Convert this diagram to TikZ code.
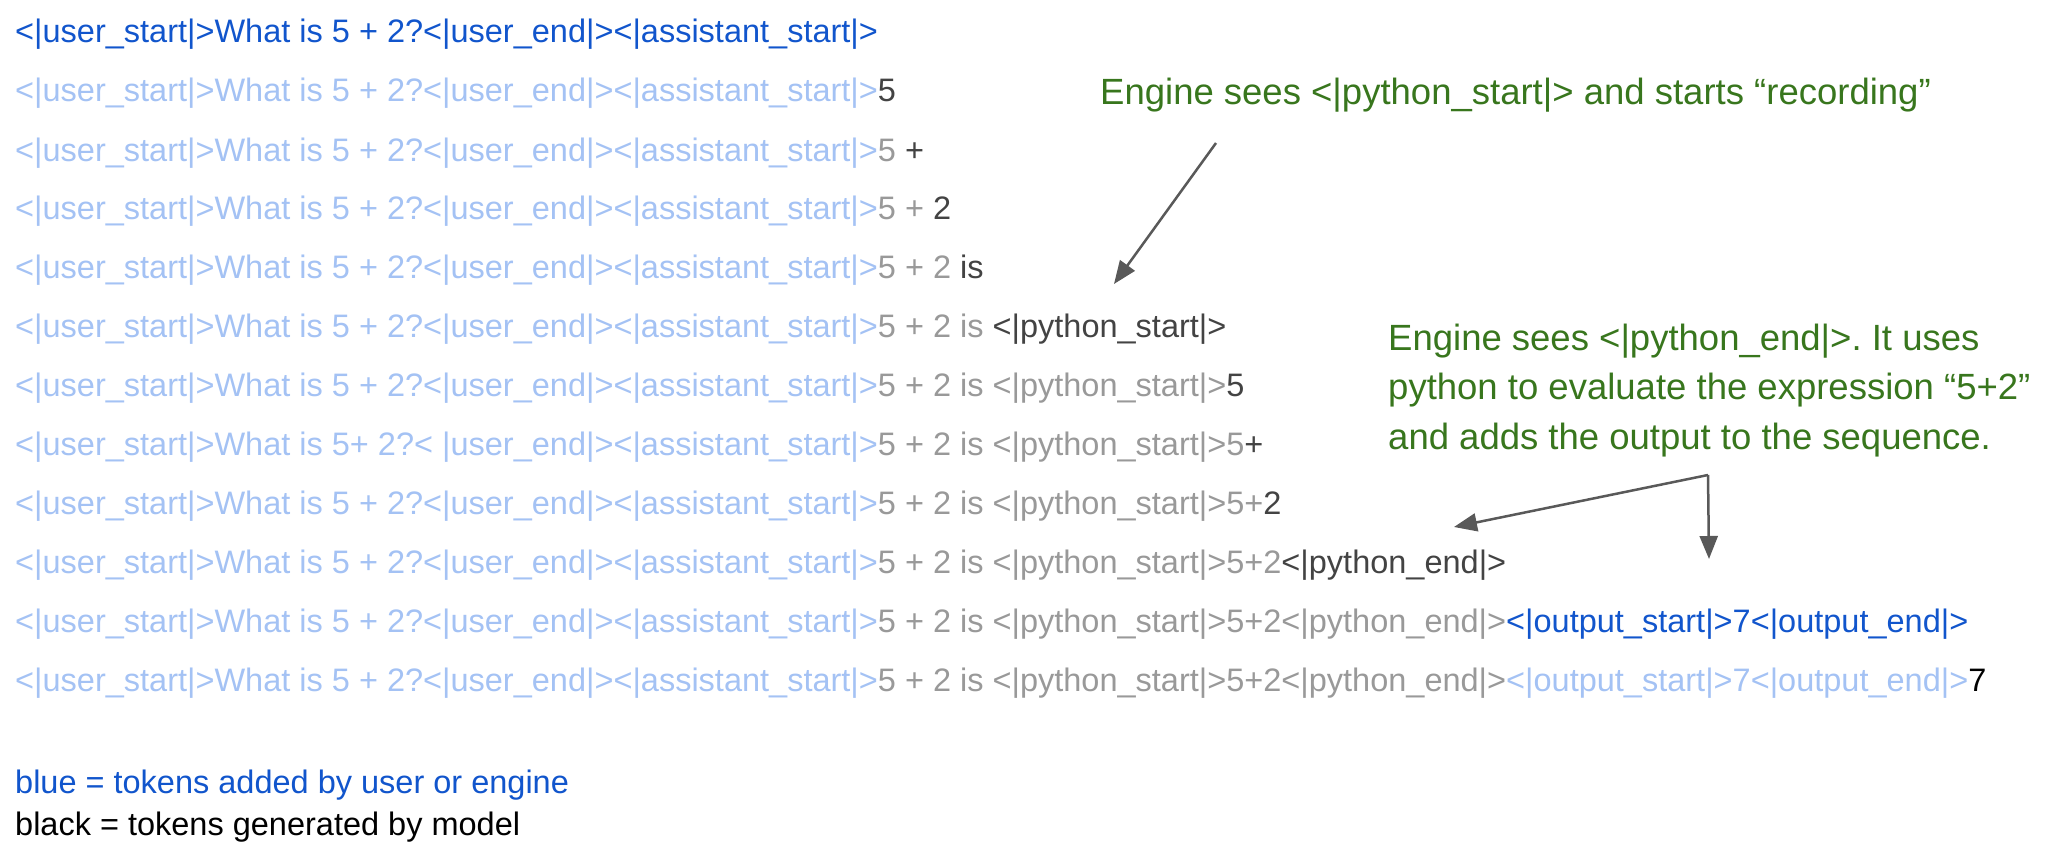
\documentclass[tikz,border=0pt]{standalone}
\usepackage{fontspec}
\setmainfont{Liberation Sans}
\usetikzlibrary{arrows.meta}
\definecolor{ublue}{HTML}{1155CC}
\definecolor{lblue}{HTML}{A4C2F4}
\definecolor{ogray}{HTML}{999999}
\definecolor{ngray}{HTML}{434343}
\definecolor{egreen}{HTML}{38761D}
\definecolor{arrowc}{HTML}{595959}
\newcommand\Pfx{<|user\_start|>What is 5 + 2?<|user\_end|><|assistant\_start|>}
\newcommand\PfxB{<|user\_start|>What is 5+ 2?< |user\_end|><|assistant\_start|>}
\newcommand\rowfont{\fontsize{32.5}{39}\selectfont}
\newcommand\notefont{\fontsize{36.5}{44}\selectfont}
\frenchspacing
\begin{document}
\begin{tikzpicture}[x=1pt,y=-1pt,
  rowtext/.style={anchor=base west, inner sep=0pt, font=\rowfont},
  notetext/.style={anchor=base west, inner sep=0pt, font=\notefont, text=egreen},
  arr/.style={draw=arrowc, line width=2.5pt, -{Triangle[length=23pt,width=18pt]}}]
\useasboundingbox (0,0) rectangle (2048,853);
\node[rowtext] (r1) at (15,43) {\color{ublue}\Pfx};
\node[rowtext] (r2) at (15,102) {\color{lblue}\Pfx\color{ngray}5};
\node[rowtext] (r3) at (15,162) {\color{lblue}\Pfx\color{ogray}5 \color{ngray}+};
\node[rowtext] (r4) at (15,219) {\color{lblue}\Pfx\color{ogray}5 + \color{ngray}2};
\node[rowtext] (r5) at (15,278) {\color{lblue}\Pfx\color{ogray}5 + 2 \color{ngray}is};
\node[rowtext] (r6) at (15,337) {\color{lblue}\Pfx\color{ogray}5 + 2 is \color{ngray}<|python\_start|>};
\node[rowtext] (r7) at (15,396) {\color{lblue}\Pfx\color{ogray}5 + 2 is <|python\_start|>\color{ngray}5};
\node[rowtext] (r8) at (15,455) {\color{lblue}\PfxB\color{ogray}5 + 2 is <|python\_start|>5\color{ngray}+};
\node[rowtext] (r9) at (15,514) {\color{lblue}\Pfx\color{ogray}5 + 2 is <|python\_start|>5+\color{ngray}2};
\node[rowtext] (r10) at (15,573) {\color{lblue}\Pfx\color{ogray}5 + 2 is <|python\_start|>5+2\color{ngray}<|python\_end|>};
\node[rowtext] (r11) at (15,632) {\color{lblue}\Pfx\color{ogray}5 + 2 is <|python\_start|>5+2<|python\_end|>\color{ublue}<|output\_start|>7<|output\_end|>};
\node[rowtext] (r12) at (15,691) {\color{lblue}\Pfx\color{ogray}5 + 2 is <|python\_start|>5+2<|python\_end|>\color{lblue}<|output\_start|>7<|output\_end|>\color{black}7};
\node[rowtext, text=ublue] (l1) at (15,793) {blue = tokens added by user or engine};
\node[rowtext, text=black] (l2) at (15,835) {black = tokens generated by model};
\node[notetext] (n1) at (1100,105) {Engine sees <|python\_start|> and starts “recording”};
\node[notetext] (n2a) at (1388,350) {Engine sees <|python\_end|>. It uses};
\node[notetext] (n2b) at (1388,399) {python to evaluate the expression “5+2”};
\node[notetext] (n2c) at (1388,449) {and adds the output to the sequence.};
\coordinate (a1s) at (1216,143);
\coordinate (a1t) at (1114,284);
\coordinate (c2) at (1708,475);
\coordinate (t2a) at (1454,527);
\coordinate (t2b) at (1709,559);
\draw[arr] (a1s) -- (a1t);
\draw[arr] (c2) -- (t2a);
\draw[arr] (c2) -- (t2b);
\end{tikzpicture}
\end{document}
